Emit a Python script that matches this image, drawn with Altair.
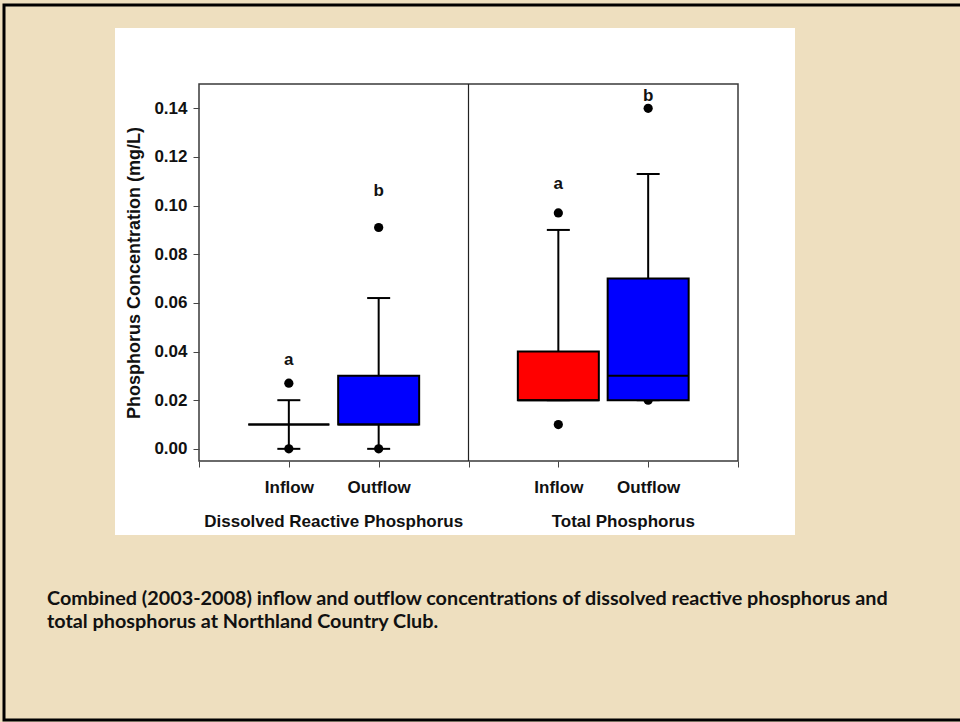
import altair as alt
import pandas as pd

# ---------------- data ----------------
groups = ["Dissolved Reactive Phosphorus", "Total Phosphorus"]
flows = ["Inflow", "Outflow"]

# box statistics, order: DRP-Inflow, DRP-Outflow, TP-Inflow, TP-Outflow
q1 = [0.010, 0.010, 0.020, 0.020]
median = [0.010, 0.010, 0.020, 0.030]
q3 = [0.010, 0.030, 0.040, 0.070]
whisker_lo = [0.000, 0.000, 0.020, 0.020]
whisker_hi = [0.020, 0.062, 0.090, 0.113]
box_colors = ["#FF0000", "#0000FF", "#FF0000", "#0000FF"]
letters = ["a", "b", "a", "b"]
letter_y = [0.0365, 0.106, 0.109, 0.145]

# outliers: (box index, value)
outlier_box = [0, 0, 1, 1, 2, 2, 3, 3]
outlier_val = [0.027, 0.000, 0.091, 0.000, 0.097, 0.010, 0.140, 0.020]

y_ticks = [0.00, 0.02, 0.04, 0.06, 0.08, 0.10, 0.12, 0.14]

caption = [
    "Combined (2003-2008) inflow and outflow concentrations of dissolved reactive phosphorus and",
    "total phosphorus at Northland Country Club.",
]

# ---------------- tables ----------------
rows = []
for gi, g in enumerate(groups):
    for fi, f in enumerate(flows):
        k = gi * 2 + fi
        rows.append(dict(group=g, flow=f, pos=gi * 3 + fi + 1,
                         q1=q1[k], median=median[k], q3=q3[k],
                         lo=whisker_lo[k], hi=whisker_hi[k],
                         color=box_colors[k], letter=letters[k], ly=letter_y[k]))
box_df = pd.DataFrame(rows)
out_df = pd.DataFrame({"pos": [box_df.loc[i, "pos"] for i in outlier_box],
                       "value": outlier_val})
grp_df = pd.DataFrame({"group": groups, "gpos": [gi * 3 + 1.5 for gi in range(len(groups))]})

# ---------------- encodings ----------------
FONT = "Liberation Sans"
W, H = 539, 377
PAD = {"left": 199, "top": 84, "right": 960 - 199 - W, "bottom": 722 - 84 - H}

xscale = alt.Scale(domain=[0, 6], nice=False, zero=False, padding=0)
yscale = alt.Scale(domain=[-0.005, 0.15], nice=False, zero=False, padding=0)

xaxis = alt.Axis(values=[0, 1, 2, 3, 4, 5, 6], title=None, grid=False, domain=False,
                 labelExpr="datum.value==1||datum.value==4 ? 'Inflow' : (datum.value==2||datum.value==5 ? 'Outflow' : '')",
                 tickSize=6, tickColor="#444", labelPadding=12, labelFont=FONT,
                 labelFontSize=17, labelFontWeight="bold", labelColor="#111", zindex=1)
yaxis = alt.Axis(values=y_ticks, format=".2f", title="Phosphorus Concentration (mg/L)",
                 grid=False, domain=False, tickSize=6, tickColor="#444", labelPadding=6,
                 labelFont=FONT, labelFontSize=17, labelFontWeight="bold", labelColor="#111",
                 titleFont=FONT, titleFontSize=18, titleFontWeight="bold", titleColor="#111",
                 titlePadding=10, zindex=1)


def X(field):
    return alt.X(field, type="quantitative", scale=xscale, axis=xaxis)


def Y(field):
    return alt.Y(field, type="quantitative", scale=yscale, axis=yaxis)


dummy = pd.DataFrame({"d": [0]})

panel = alt.Chart(dummy).mark_rect(fill="white").encode(
    x=alt.value(-84), x2=alt.value(596), y=alt.value(-56), y2=alt.value(451))

frame = alt.Chart(dummy).mark_rect(fill=None, stroke="#3a3a3a", strokeWidth=1.5).encode(
    x=alt.value(0), x2=alt.value(W), y=alt.value(0), y2=alt.value(H))

divider = alt.Chart(dummy).mark_rule(color="#222", strokeWidth=1.2).encode(
    x=alt.datum(3, scale=xscale, axis=xaxis), y=alt.value(0), y2=alt.value(H))

base = alt.Chart(box_df)

whiskers = base.mark_rule(color="black", strokeWidth=2).encode(
    x=X("pos"), y=Y("lo"), y2="hi")

caps_hi = base.mark_tick(orient="horizontal", size=23, thickness=2, color="black", opacity=1).encode(
    x=X("pos"), y=Y("hi"))
caps_lo = base.mark_tick(orient="horizontal", size=23, thickness=2, color="black", opacity=1).encode(
    x=X("pos"), y=Y("lo"))

outliers = alt.Chart(out_df).mark_point(filled=True, size=85, color="black", opacity=1).encode(
    x=X("pos"), y=Y("value"))

boxes = base.mark_bar(size=81, stroke="black", strokeWidth=2).encode(
    x=X("pos"), y=Y("q1"), y2="q3", fill=alt.Fill("color:N", scale=None))

medians = base.mark_tick(orient="horizontal", size=81, thickness=2, color="black", opacity=1).encode(
    x=X("pos"), y=Y("median"))

letter_txt = base.mark_text(font=FONT, fontSize=17, fontWeight="bold", color="#111",
                            baseline="middle").encode(
    x=X("pos"), y=Y("ly"), text="letter")

grp_drp = alt.Chart(grp_df).transform_filter(alt.datum.group == groups[0]).mark_text(
    font=FONT, fontSize=17, fontWeight="bold", color="#111", baseline="middle").encode(
    x=X("gpos"), y=alt.value(438), text="group")
grp_tp = alt.Chart(grp_df).transform_filter(alt.datum.group == groups[1]).mark_text(
    font=FONT, fontSize=17, fontWeight="bold", color="#111", baseline="middle", dx=20).encode(
    x=X("gpos"), y=alt.value(438), text="group")

cap_txt = alt.Chart(dummy).mark_text(font="Lato", fontSize=19.8, fontWeight="bold",
                                     color="#111", align="left", baseline="alphabetic",
                                     lineHeight=23).encode(
    x=alt.value(-152), y=alt.value(521), text=alt.value(caption))

border = alt.Chart(dummy).mark_rect(fill=None, stroke="black", strokeWidth=3).encode(
    x=alt.value(-195), x2=alt.value(W + 230), y=alt.value(-79), y2=alt.value(H + 259))

chart = alt.layer(panel, frame, divider, whiskers, caps_hi, caps_lo, outliers, boxes, medians,
                  letter_txt, grp_drp, grp_tp, cap_txt, border).properties(
    width=W, height=H,
    padding=PAD,
    autosize=alt.AutoSizeParams(type="none"),
    background="#EEDFBF",
).configure_view(stroke=None)

chart.save("out.html", embed_options={"renderer": "svg", "actions": False})
